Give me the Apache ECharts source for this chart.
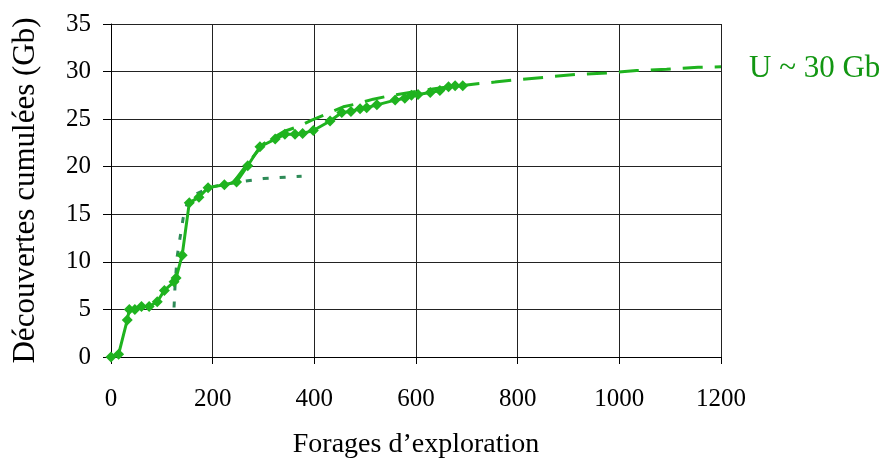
<!DOCTYPE html>
<html>
<head>
<meta charset="utf-8">
<script src="https://cdn.jsdelivr.net/npm/echarts@6/dist/echarts.min.js"></script>
<style>
  html, body { margin: 0; padding: 0; background: #fff; }
  #decouvertes-chart { width: 886px; height: 463px; }
</style>
</head>
<body>
<div id="decouvertes-chart"></div>
<script>
// découvertes cumulées (Gb) en fonction du nombre de forages
var forages = [0, 15, 32, 36, 47, 60, 75, 91, 105, 124, 128, 140, 154, 173, 191, 223, 247, 269, 293, 323,
  342, 362, 377, 398, 431, 454, 472, 490, 503, 523, 559, 578, 591, 604, 628, 647, 664, 677, 692];
var decouvertes = [0, 0.3, 3.9, 5.0, 5.0, 5.3, 5.3, 5.8, 7.0, 7.9, 8.3, 10.7, 16.2, 16.8, 17.8, 18.1, 18.4, 20.1, 22.1, 22.9,
  23.4, 23.4, 23.5, 23.8, 24.8, 25.7, 25.8, 26.1, 26.2, 26.5, 27.0, 27.2, 27.5, 27.6, 27.8, 28.0, 28.4, 28.5, 28.5];

// première phase (pointillé)
var foragesPhase1 = [124, 126, 130, 136, 142, 150, 170, 200, 250, 300, 375];
var decouvertesPhase1 = [5.2, 7.5, 10.5, 12.6, 14.6, 16.2, 17.2, 17.9, 18.4, 18.75, 19.0];

// extrapolation vers U ~ 30 Gb (tirets)
var foragesExtra = [240, 270, 300, 340, 372, 395, 431, 457, 483, 516, 552, 600, 650, 700, 755, 800, 854, 913, 975, 1034, 1093, 1155, 1200];
var decouvertesExtra = [18.3, 20.4, 22.4, 23.7, 24.3, 24.9, 25.7, 26.3, 26.6, 27.1, 27.5, 27.9, 28.3, 28.6, 28.9, 29.15, 29.4, 29.7, 29.85, 30.1, 30.25, 30.45, 30.5];

var xTicks = [0, 200, 400, 600, 800, 1000, 1200];
var yTicks = [0, 5, 10, 15, 20, 25, 30, 35];

function paires(xs, ys) {
  return xs.map(function (x, i) { return [x, ys[i]]; });
}

var police = 'Liberation Serif';
var vert = '#1fb31f';

var myChart = echarts.init(document.getElementById('decouvertes-chart'));
var option = {
  animation: false,
  grid: { left: 111, right: 165, top: 24, bottom: 106, outerBoundsMode: 'none' },
  xAxis: {
    type: 'value',
    min: xTicks[0],
    max: xTicks[xTicks.length - 1],
    interval: 200,
    name: 'Forages d\u2019exploration',
    nameLocation: 'middle',
    nameGap: 74,
    nameTextStyle: { fontFamily: police, fontSize: 28, color: '#000' },
    axisLine: { lineStyle: { color: '#000', width: 1 } },
    axisTick: { show: true, length: 7, lineStyle: { color: '#000' } },
    axisLabel: {
      fontFamily: police, fontSize: 25, color: '#000', margin: 30,
      formatter: function (v) { return String(v); }
    },
    splitLine: { show: true, lineStyle: { color: '#222', width: 1 } }
  },
  yAxis: {
    type: 'value',
    min: yTicks[0],
    max: yTicks[yTicks.length - 1],
    interval: 5,
    name: 'Découvertes cumulées (Gb)',
    nameLocation: 'middle',
    nameGap: 70,
    nameTextStyle: { fontFamily: police, fontSize: 31, color: '#000' },
    axisLine: { show: true, lineStyle: { color: '#000', width: 1 } },
    axisTick: { show: true, length: 8, lineStyle: { color: '#000' } },
    axisLabel: { fontFamily: police, fontSize: 25, color: '#000', margin: 20 },
    splitLine: { show: true, lineStyle: { color: '#222', width: 1 } }
  },
  series: [
    {
      name: 'phase 1',
      type: 'line',
      data: paires(foragesPhase1, decouvertesPhase1),
      showSymbol: false,
      lineStyle: { color: '#2e8b57', width: 3, type: [6, 11] }
    },
    {
      name: 'découvertes',
      type: 'line',
      data: paires(forages, decouvertes),
      symbol: 'diamond',
      symbolSize: 11,
      itemStyle: { color: vert },
      lineStyle: { color: vert, width: 3 }
    },
    {
      name: 'extrapolation',
      type: 'line',
      data: paires(foragesExtra, decouvertesExtra),
      showSymbol: false,
      lineStyle: { color: vert, width: 3, type: [20, 12] },
      endLabel: {
        show: true,
        formatter: 'U ~ 30 Gb',
        distance: 28,
        offset: [0, 2],
        fontFamily: police,
        fontSize: 31,
        color: '#129612'
      }
    }
  ]
};
myChart.setOption(option);
</script>
</body>
</html>
